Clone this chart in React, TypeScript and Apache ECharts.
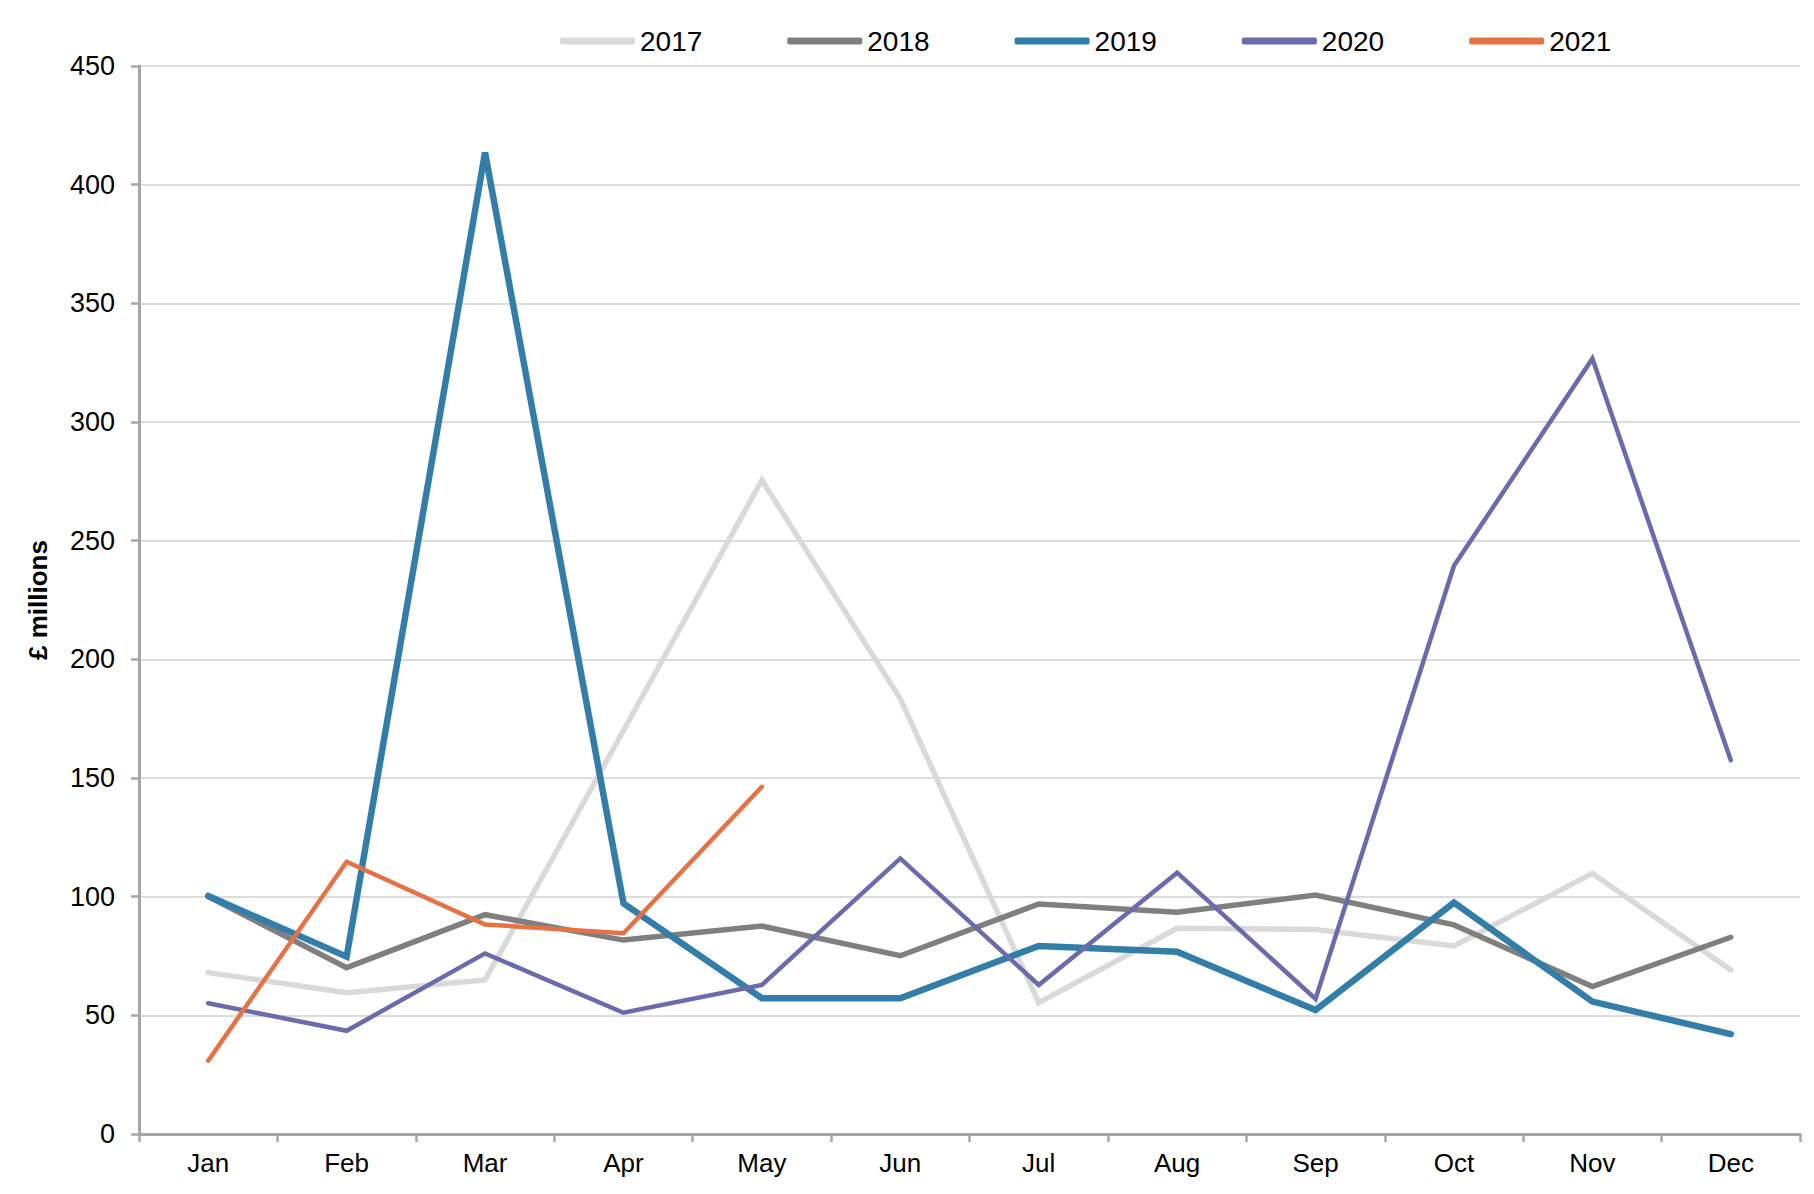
import React, { useEffect, useRef } from "react";
import * as echarts from "echarts";

const months = ["Jan", "Feb", "Mar", "Apr", "May", "Jun", "Jul", "Aug", "Sep", "Oct", "Nov", "Dec"];
const yTicks = [0, 450, 50];
const y2017 = [68, 59.5, 64.9, 170, 275.5, 183.4, 55.3, 86.7, 86.2, 79.2, 109.8, 69.1];
const y2018 = [100, 70.1, 92.4, 81.7, 87.6, 75.1, 96.9, 93.4, 100.7, 88.1, 62.1, 82.9];
const y2019 = [100.3, 74.7, 413.5, 97.2, 57.2, 57.2, 79.2, 76.8, 52.2, 97.5, 55.8, 42.1];
const y2020 = [55.1, 43.5, 76.1, 51.1, 62.8, 116.1, 62.8, 110.1, 56.9, 239.4, 326.7, 157.5];
const y2021 = [30.9, 114.7, 88.3, 84.6, 146.3];

const seriesDefs = [
  { name: "2017", data: y2017, color: "#d9d9d9", width: 5.5 },
  { name: "2018", data: y2018, color: "#7f7f7f", width: 5.5 },
  { name: "2019", data: y2019, color: "#337ea9", width: 6.5 },
  { name: "2020", data: y2020, color: "#6a6aad", width: 4.5 },
  { name: "2021", data: y2021, color: "#e57244", width: 4.5 },
];

const FONT = "'Liberation Sans', Arial, sans-serif";

export default function App() {
  const ref = useRef<HTMLDivElement>(null);
  useEffect(() => {
    if (!ref.current) return;
    const chart = echarts.init(ref.current, null, { renderer: "svg" });
    chart.setOption({
      animation: false,
      textStyle: { fontFamily: FONT },
      legend: {
        left: 555,
        top: 22,
        icon: "roundRect",
        itemWidth: 75,
        itemHeight: 7,
        itemGap: 85,
        textStyle: { fontSize: 28, color: "#000", fontFamily: FONT },
        data: seriesDefs.map((s) => s.name),
      },
      grid: { left: 139, right: 14, top: 66, bottom: 60, containLabel: false },
      xAxis: {
        type: "category",
        data: months,
        boundaryGap: true,
        axisLine: { lineStyle: { color: "#a6a6a6", width: 3 } },
        axisTick: { show: true, length: 8, lineStyle: { color: "#a6a6a6", width: 2.5 } },
        axisLabel: { fontSize: 26, color: "#000", margin: 16, fontFamily: FONT },
        splitLine: { show: false },
      },
      yAxis: {
        type: "value",
        min: yTicks[0],
        max: yTicks[1],
        interval: yTicks[2],
        name: "£ millions",
        nameLocation: "middle",
        nameRotate: 90,
        nameGap: 88,
        nameTextStyle: { fontSize: 26, fontWeight: "bold", color: "#000", fontFamily: FONT },
        axisLine: { show: true, lineStyle: { color: "#a6a6a6", width: 3 } },
        axisTick: { show: true, length: 8, lineStyle: { color: "#a6a6a6", width: 2.5 } },
        axisLabel: { fontSize: 27, color: "#000", margin: 24, fontFamily: FONT },
        splitLine: { show: true, lineStyle: { color: "#d0d0d0", width: 1.5 } },
      },
      series: seriesDefs.map((s) => ({
        name: s.name,
        type: "line",
        data: s.data,
        symbol: "none",
        showSymbol: false,
        color: s.color,
        lineStyle: { color: s.color, width: s.width, cap: "round", join: "miter" },
        itemStyle: { color: s.color },
      })),
    });
    return () => chart.dispose();
  }, []);
  return <div ref={ref} style={{ width: 1814, height: 1194, margin: -8 }} />;
}
